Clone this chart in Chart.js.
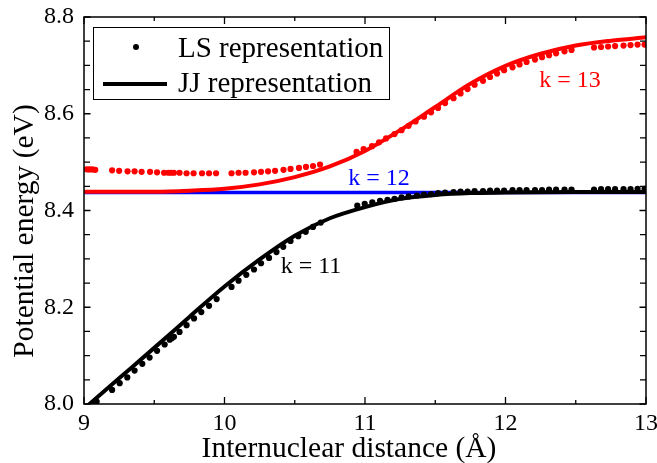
<!DOCTYPE html>
<html><head><meta charset="utf-8">
<script src="https://cdn.jsdelivr.net/npm/chart.js@4.4.1/dist/chart.umd.min.js"></script>
<style>html,body{margin:0;padding:0;background:#fff}canvas{display:block}</style>
</head><body>
<canvas id="c" width="657" height="463"></canvas>
<script>
// ---- tick labels ----
const xTicks = [9, 10, 11, 12, 13];
const xMinorTicks = [9.5, 10.5, 11.5, 12.5];
const yTicks = [8.0, 8.2, 8.4, 8.6, 8.8];
const yMinorTicks = [8.05, 8.1, 8.15, 8.25, 8.3, 8.35, 8.45, 8.5, 8.55, 8.65, 8.7, 8.75];

// ---- JJ representation (solid lines) ----
const jjK11X = [9.0, 9.25, 9.5, 9.75, 10.0, 10.25, 10.5, 10.75, 11.0, 11.25, 11.5, 11.75, 12.0, 12.5, 13.0];
const jjK11Y = [7.990, 8.053, 8.116, 8.180, 8.243, 8.299, 8.348, 8.384, 8.407, 8.424, 8.432, 8.436, 8.437, 8.438, 8.438];
const jjK12X = [9.0, 13.0];
const jjK12Y = [8.437, 8.437];
const jjK13X = [9.0, 9.5, 9.75, 10.0, 10.25, 10.5, 10.75, 11.0, 11.25, 11.5, 11.75, 12.0, 12.25, 12.5, 12.75, 13.0];
const jjK13Y = [8.439, 8.439, 8.441, 8.445, 8.454, 8.469, 8.491, 8.523, 8.566, 8.614, 8.662, 8.699, 8.724, 8.741, 8.751, 8.758];

// ---- LS representation (dots) ----
const lsK11X = [9.07, 9.09, 9.20, 9.254, 9.308, 9.36, 9.415, 9.467, 9.52, 9.574, 9.61, 9.625, 9.64, 9.68, 9.73, 9.783, 9.835, 9.89, 9.944,
  10.05, 10.10, 10.155, 10.21, 10.26, 10.317, 10.37, 10.418, 10.47, 10.525, 10.578, 10.63, 10.685,
  10.945, 10.998, 11.052, 11.107, 11.16, 11.21, 11.26, 11.31, 11.37, 11.42, 11.47, 11.52, 11.57, 11.63, 11.68, 11.73, 11.78, 11.84, 11.89, 11.94, 11.99,
  12.05, 12.10, 12.15, 12.21, 12.26, 12.31, 12.36, 12.42, 12.47, 12.63, 12.68, 12.73, 12.78, 12.84, 12.89, 12.94, 12.99];
const lsK11Y = [8.002, 8.005, 8.029, 8.043, 8.055, 8.069, 8.083, 8.096, 8.110, 8.123, 8.133, 8.136, 8.139, 8.149, 8.163, 8.177, 8.190, 8.203, 8.217,
  8.242, 8.255, 8.267, 8.278, 8.291, 8.302, 8.314, 8.325, 8.337, 8.347, 8.356, 8.366, 8.375,
  8.410, 8.414, 8.417, 8.420, 8.422, 8.424, 8.427, 8.429, 8.431, 8.433, 8.434, 8.436, 8.437, 8.438, 8.439, 8.439, 8.440, 8.440, 8.441, 8.441, 8.441,
  8.442, 8.442, 8.442, 8.442, 8.442, 8.443, 8.443, 8.443, 8.443, 8.443, 8.444, 8.444, 8.444, 8.444, 8.444, 8.445, 8.445];
const lsK13X = [9.02, 9.04, 9.06, 9.08, 9.20, 9.25, 9.31, 9.36, 9.41, 9.47, 9.52, 9.57, 9.60, 9.62, 9.64, 9.68, 9.73, 9.78, 9.84, 9.89, 9.94,
  10.05, 10.10, 10.15, 10.21, 10.26, 10.31, 10.36, 10.42, 10.47, 10.53, 10.58, 10.63, 10.68,
  10.94, 10.99, 11.05, 11.10, 11.15, 11.21, 11.26, 11.31, 11.36, 11.42, 11.47, 11.52, 11.57, 11.63, 11.68, 11.73, 11.78, 11.84, 11.89, 11.94, 11.99,
  12.05, 12.10, 12.15, 12.21, 12.26, 12.31, 12.36, 12.42, 12.47, 12.63, 12.68, 12.73, 12.78, 12.84, 12.89, 12.94, 12.99];
const lsK13Y = [8.485, 8.485, 8.485, 8.484, 8.483, 8.482, 8.481, 8.481, 8.480, 8.480, 8.479, 8.478, 8.478, 8.478, 8.478, 8.478, 8.477, 8.477, 8.477, 8.477, 8.477,
  8.477, 8.478, 8.478, 8.479, 8.480, 8.481, 8.482, 8.484, 8.486, 8.488, 8.490, 8.492, 8.495,
  8.521, 8.527, 8.533, 8.541, 8.549, 8.558, 8.566, 8.575, 8.584, 8.594, 8.603, 8.612, 8.622, 8.632, 8.642, 8.651, 8.660, 8.668, 8.676, 8.683, 8.690,
  8.696, 8.702, 8.707, 8.712, 8.717, 8.721, 8.725, 8.729, 8.732, 8.737, 8.738, 8.739, 8.740, 8.741, 8.742, 8.743, 8.743];

// ---- annotations ----
const curveLabels = ['k = 11', 'k = 12', 'k = 13'];
const curveLabelX = [10.40, 10.88, 12.24];
const curveLabelY = [8.271, 8.4525, 8.655];
const curveLabelColors = ['#000000', '#0000ff', '#ff0000'];

const legendLabels = ['LS representation', 'JJ representation'];
const xTitle = 'Internuclear distance (Å)';
const yTitle = 'Potential energy (eV)';

const SERIF = '"Liberation Serif", "Times New Roman", serif';
const pts = (xs, ys) => xs.map((x, i) => ({x: x, y: ys[i]}));

const decor = {
  id: 'decor',
  afterDatasetsDraw(chart) {
    const ctx = chart.ctx, a = chart.chartArea;
    const xs = chart.scales.x, ys = chart.scales.y;
    ctx.save();
    // frame
    ctx.strokeStyle = '#000'; ctx.lineWidth = 1.5;
    ctx.strokeRect(a.left, a.top, a.right - a.left, a.bottom - a.top);
    // inward ticks
    ctx.lineWidth = 1.3;
    ctx.beginPath();
    const xt = (v, len) => {
      const p = xs.getPixelForValue(v);
      ctx.moveTo(p, a.bottom); ctx.lineTo(p, a.bottom - len);
      ctx.moveTo(p, a.top); ctx.lineTo(p, a.top + len);
    };
    const yt = (v, len) => {
      const p = ys.getPixelForValue(v);
      ctx.moveTo(a.left, p); ctx.lineTo(a.left + len, p);
      ctx.moveTo(a.right, p); ctx.lineTo(a.right - len, p);
    };
    xTicks.forEach(v => xt(v, 7));
    xMinorTicks.forEach(v => xt(v, 4));
    yTicks.forEach(v => yt(v, 6.5));
    yMinorTicks.forEach(v => yt(v, 6));
    ctx.stroke();
    // curve labels
    ctx.font = '24px ' + SERIF;
    ctx.textBaseline = 'alphabetic'; ctx.textAlign = 'left';
    curveLabels.forEach((t, i) => {
      ctx.fillStyle = curveLabelColors[i];
      ctx.fillText(t, xs.getPixelForValue(curveLabelX[i]), ys.getPixelForValue(curveLabelY[i]));
    });
    // legend
    const lx = a.left + 9, ly = a.top + 10;
    ctx.fillStyle = '#fff'; ctx.fillRect(lx + 0.5, ly + 0.5, 296, 72);
    ctx.strokeStyle = '#000'; ctx.lineWidth = 1;
    ctx.strokeRect(lx + 0.5, ly + 0.5, 296, 72);
    ctx.fillStyle = '#000';
    ctx.beginPath(); ctx.arc(lx + 43, ly + 20, 3, 0, Math.PI * 2); ctx.fill();
    ctx.lineWidth = 4; ctx.beginPath(); ctx.moveTo(lx + 10, ly + 57); ctx.lineTo(lx + 74, ly + 57); ctx.stroke();
    ctx.font = '29px ' + SERIF;
    ctx.fillText(legendLabels[0], lx + 85, ly + 30);
    ctx.fillText(legendLabels[1], lx + 85, ly + 65);
    // axis titles
    ctx.font = '29.5px ' + SERIF;
    ctx.textAlign = 'center';
    ctx.fillText(xTitle, 349, 457);
    ctx.save();
    ctx.translate(33, 231); ctx.rotate(-Math.PI / 2);
    ctx.fillText(yTitle, 0, 0);
    ctx.restore();
    ctx.restore();
  }
};

new Chart(document.getElementById('c'), {
  type: 'scatter',
  data: {
    datasets: [
      {label: 'LS k=11', data: pts(lsK11X, lsK11Y), backgroundColor: '#000', borderWidth: 0, pointRadius: 3.1, order: 1},
      {label: 'LS k=13', data: pts(lsK13X, lsK13Y), backgroundColor: '#ff0000', borderWidth: 0, pointRadius: 3.1, order: 2},
      {label: 'JJ k=11', data: pts(jjK11X, jjK11Y), showLine: true, borderColor: '#000', borderWidth: 4, pointRadius: 0, cubicInterpolationMode: 'monotone', clip: 0, order: 3},
      {label: 'JJ k=13', data: pts(jjK13X, jjK13Y), showLine: true, borderColor: '#ff0000', borderWidth: 4, pointRadius: 0, cubicInterpolationMode: 'monotone', clip: 0, order: 4},
      {label: 'JJ k=12', data: pts(jjK12X, jjK12Y), showLine: true, borderColor: '#0000ff', borderWidth: 3.5, pointRadius: 0, clip: 0, order: 5}
    ]
  },
  options: {
    responsive: false,
    animation: false,
    devicePixelRatio: 1,
    layout: {padding: {top: 17, right: 11, left: 0, bottom: 0}},
    plugins: {legend: {display: false}, tooltip: {enabled: false}},
    scales: {
      x: {
        type: 'linear', min: 9, max: 13,
        grid: {display: false, drawTicks: false}, border: {display: false},
        afterBuildTicks: s => { s.ticks = xTicks.map(v => ({value: v})); },
        ticks: {font: {family: SERIF, size: 24}, color: '#000', padding: 5, maxRotation: 0, autoSkip: false,
          callback: v => String(v)},
        afterFit: s => { s.height = 59; s.paddingLeft = 0; s.paddingRight = 0; }
      },
      y: {
        type: 'linear', min: 8.0, max: 8.8,
        grid: {display: false, drawTicks: false}, border: {display: false},
        afterBuildTicks: s => { s.ticks = yTicks.map(v => ({value: v})); },
        ticks: {font: {family: SERIF, size: 24}, color: '#000', padding: 10, autoSkip: false,
          callback: v => Number(v).toFixed(1)},
        afterFit: s => { s.width = 84; s.paddingTop = 0; s.paddingBottom = 0; }
      }
    }
  },
  plugins: [decor]
});
</script>
</body></html>
